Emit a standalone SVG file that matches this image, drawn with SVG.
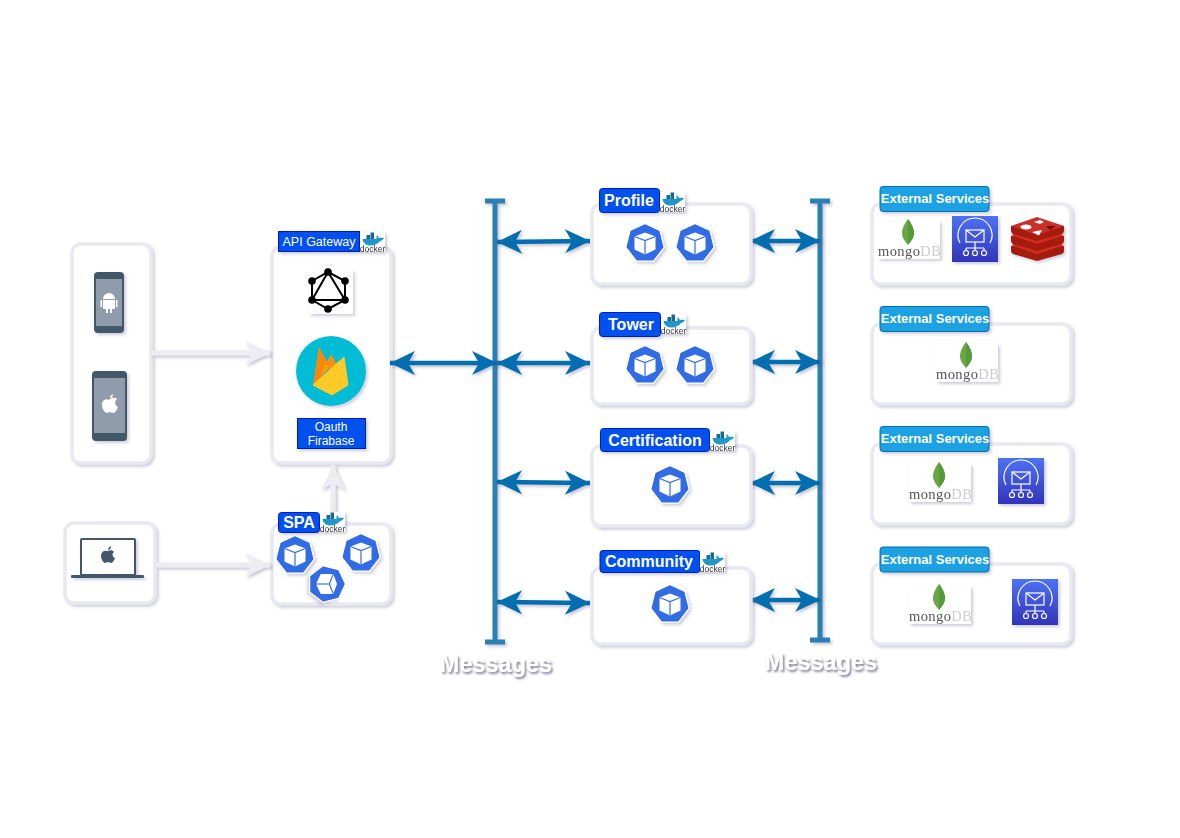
<svg xmlns="http://www.w3.org/2000/svg" xmlns:xlink="http://www.w3.org/1999/xlink" width="1180" height="838" viewBox="0 0 1180 838">
<style>
text{font-family:"Liberation Sans",Arial,sans-serif}
.box{fill:#fff;stroke:#e8e8f0;stroke-width:3.500;filter:url(#sh)}
.blue{fill:#0050ef;stroke:#001dbc;stroke-width:1;filter:url(#sh)}
.ext{fill:#1ba1e2;stroke:#006eaf;stroke-width:1;filter:url(#sh)}
.t{fill:#fff;font-weight:700;text-anchor:middle}
.bus{stroke:#2a7fb4;stroke-width:5;fill:none;filter:url(#csh)}
.link{stroke:#006eaf;stroke-width:4.500;fill:none;marker-start:url(#ms);marker-end:url(#me);filter:url(#csh)}
.grey{stroke:#ececf2;stroke-width:5;fill:none;marker-end:url(#ge);filter:url(#csh)}
.msg{fill:#fff;font-weight:700;font-size:23.500px;text-anchor:middle;filter:url(#sh2)}
.icon{filter:url(#sh)}
</style>
<defs>
<filter id="sh" x="-20%" y="-20%" width="150%" height="150%"><feDropShadow dx="2" dy="2" stdDeviation="1.800" flood-color="#5a5a80" flood-opacity=".3"/></filter>
<filter id="csh" filterUnits="userSpaceOnUse" x="0" y="0" width="1180" height="838"><feDropShadow dx="2" dy="2" stdDeviation="1.800" flood-color="#5a5a80" flood-opacity=".35"/></filter>
<filter id="sh2" x="-20%" y="-30%" width="140%" height="170%"><feDropShadow dx="1.500" dy="2" stdDeviation="1.200" flood-color="#55556a" flood-opacity=".75"/></filter>
<marker id="me" markerUnits="userSpaceOnUse" markerWidth="28" markerHeight="26" refX="25" refY="12" orient="auto"><path d="M0 0L25 12L0 24L7 12Z" fill="#006eaf"/></marker>
<marker id="ms" markerUnits="userSpaceOnUse" markerWidth="28" markerHeight="26" refX="1" refY="12" orient="auto"><path d="M26 0L1 12L26 24L19 12Z" fill="#006eaf"/></marker>
<marker id="ge" markerUnits="userSpaceOnUse" markerWidth="28" markerHeight="26" refX="25" refY="12" orient="auto"><path d="M0 0L25 12L0 24L7 12Z" fill="#ececf2"/></marker>
<g id="kube">
<path d="M0-18L14-11.500L18 4L8 17L-8 17L-18 4L-14-11.500Z" fill="#326ce5" stroke="#326ce5" stroke-width="2" stroke-linejoin="round"/>
<path d="M0-19.500L15-12.500L19.200 4.300L8.500 18.200L-8.500 18.200L-19.200 4.300L-15-12.500Z" fill="none" stroke="#fff" stroke-width="1.200" stroke-linejoin="round"/>
<path d="M0-10.500L10.500-6.500V6.500L0 11.500L-10.500 6.500V-6.500Z" fill="#fff"/>
<path d="M-10.500-6.500L0-2.500L10.500-6.500M0-2.500V11.500" stroke="#326ce5" stroke-width="1.200" fill="none"/>
</g>
<g id="docker">
<rect x="0" y="0" width="25" height="20" fill="#fff"/>
<path d="M2.500 7H16.500V3.500H17.500C18 4.500 18.500 5.500 19 6C20.500 5.500 22.500 5.500 24 6C23 8 21.500 9 20 9C18.500 11.500 14.500 13.500 10 13.500C6 13.500 3 11 2.500 7Z" fill="#2496c9"/>
<path d="M6.500 3H10V7H6.500ZM10.500 0.500H14V7H10.500Z" fill="#176a8e"/>
<text x="12.500" y="19.500" font-size="8.500" text-anchor="middle" fill="#333">docker</text>
</g>
<g id="mongo">
<rect x="0" y="0" width="62" height="38" fill="#fff"/>
<path d="M30-2C26 3 24 8 24 12C24 17 27 20 30 24C33 20 36 17 36 12C36 8 34 3 30-2Z" fill="#6ba644"/>
<path d="M30-2C34 3 36 8 36 12C36 17 33 20 30 24Z" fill="#559a3a"/>
<text x="0" y="35" font-size="14.500" style="font-family:'Liberation Serif',serif" letter-spacing=".4" fill="#555">mongo<tspan fill="#ccc">DB</tspan></text>
</g>
<linearGradient id="sns" x1="0" y1="0" x2="0" y2="1"><stop offset="0" stop-color="#4d72f3"/><stop offset="1" stop-color="#3334b9"/></linearGradient>
<g id="sns-i">
<rect x="0" y="0" width="46" height="46" fill="url(#sns)"/>
<path d="M8 27A17 17 0 1 1 38 27" fill="none" stroke="#fff" stroke-width="1.200"/>
<rect x="14" y="14" width="18" height="12" fill="none" stroke="#fff" stroke-width="1.200"/>
<path d="M14 14L23 21L32 14M23 26V32M14 32H32M14 32V34M23 32V34M32 32V34" fill="none" stroke="#fff" stroke-width="1.200"/>
<circle cx="14" cy="37" r="2.500" fill="none" stroke="#fff" stroke-width="1.200"/><circle cx="23" cy="37" r="2.500" fill="none" stroke="#fff" stroke-width="1.200"/><circle cx="32" cy="37" r="2.500" fill="none" stroke="#fff" stroke-width="1.200"/>
</g>
</defs>
<rect width="1180" height="838" fill="#fff"/>

<g id="clients">
<rect class="box" x="72" y="244" width="79" height="219" rx="9"/>
<rect class="box" x="65" y="523" width="90" height="80" rx="9"/>
</g>
<g id="gateway">
<rect class="box" x="272" y="247" width="119" height="216" rx="9"/>
</g>
<g id="spa">
<rect class="box" x="272" y="524" width="119" height="80" rx="9"/>
</g>

<g id="connectors">
<path class="grey" d="M152 353H270"/>
<path class="grey" d="M157 565H270"/>
<path class="grey" d="M333 514V465"/>
<path class="bus" d="M495 201V642M485 201H505M485 642H505"/>
<path class="bus" d="M820 201V640M810 201H830M810 640H830"/>
<path class="link" d="M390 363H497"/>
<path class="link" d="M497 242L590 241"/>
<path class="link" d="M497 363H590"/>
<path class="link" d="M497 482L590 483"/>
<path class="link" d="M497 602L590 603"/>
<path class="link" d="M750 241H820"/>
<path class="link" d="M750 362H820"/>
<path class="link" d="M750 483H820"/>
<path class="link" d="M750 600H820"/>
</g>

<g id="android-phone" class="icon">
<rect x="94" y="272" width="30" height="61" rx="4" fill="#43596b"/>
<rect x="96" y="279" width="26" height="47" fill="#8f9cab"/>
<path d="M103 299A6 6 0 0 1 115 299ZM103 300H115V309H112V313H110V309H108V313H106V309H103ZM100.500 300H102V307H100.500ZM116 300H117.500V307H116Z" fill="#fff"/>
</g>
<g id="apple-phone" class="icon">
<rect x="92" y="371" width="35" height="70" rx="4" fill="#43596b"/>
<rect x="94" y="378" width="31" height="55" fill="#8f9cab"/>
<path d="M109 400C106 398 102 400 102 405C102 409 105 413 107 413C108 413 109 412 110 412C111 412 112 413 113 413C115 413 117 410 118 407C115 406 114 401 117 399C115 397 112 398 110 399ZM110 398C110 396 111 395 113 394C113 396 112 398 110 398Z" fill="#fff"/>
</g>
<g id="laptop" class="icon">
<rect x="81" y="539" width="54" height="36" rx="1" fill="#fff" stroke="#43596b" stroke-width="2"/>
<rect x="71" y="575" width="73" height="3" rx="1" fill="#43596b"/>
<path d="M107 551C104 550 101 552 101 556C101 560 104 563 105 563C106 563 107 562 108 562C109 562 110 563 111 563C112 563 114 561 115 558C112 557 112 553 114 552C113 550 110 550 108 551ZM108 550C108 548 109 547 111 546C111 548 110 550 108 550Z" fill="#43596b"/>
</g>

<g id="gateway-label">
<rect class="blue" x="278.500" y="231.500" width="81" height="20"/>
<text class="t" x="319" y="246" font-size="12.500" style="font-weight:400">API Gateway</text>
<use xlink:href="#docker" href="#docker" x="360" y="232" class="icon"/>
</g>
<g id="graphql" class="icon">
<rect x="309" y="270" width="44" height="44" fill="#fff"/>
<path d="M328 272L345 281V300L328 309L312 300V281ZM328 272L345 300H312Z" fill="none" stroke="#000" stroke-width="2"/>
<g fill="#000"><circle cx="328" cy="272" r="3.800"/><circle cx="345" cy="281" r="3.800"/><circle cx="345" cy="300" r="3.800"/><circle cx="328" cy="309" r="3.800"/><circle cx="312" cy="300" r="3.800"/><circle cx="312" cy="281" r="3.800"/></g>
</g>
<g id="firebase" class="icon">
<circle cx="331" cy="371" r="35" fill="#00bcd4"/>
<path d="M313 386L319 347L330 367Z" fill="#ffa000"/>
<path d="M326 364L331 354L339 369L331 374Z" fill="#f79009"/>
<path d="M313 386L319 347L326 361L320 380Z" fill="#f57f17" opacity=".75"/>
<path d="M313 385L344 357L348 385L332 395Z" fill="#ffca28" stroke="#ffca28" stroke-width="1" stroke-linejoin="round"/>
</g>
<g id="oauth">
<rect class="blue" x="297.500" y="418.500" width="68" height="30"/>
<text class="t" x="331" y="431" font-size="12" style="font-weight:400">Oauth</text>
<text class="t" x="331" y="445" font-size="12" style="font-weight:400">Firabase</text>
</g>

<g id="spa-label">
<rect class="blue" x="278.500" y="512.500" width="41" height="20" rx="3"/>
<text class="t" x="299" y="528" font-size="16">SPA</text>
<use xlink:href="#docker" href="#docker" x="320" y="512" class="icon"/>
<use xlink:href="#kube" href="#kube" x="295" y="555" class="icon"/>
<use xlink:href="#kube" href="#kube" x="361" y="553" class="icon"/>
<use xlink:href="#kube" href="#kube" transform="translate(327 584) rotate(90) scale(.95)" class="icon"/>
</g>

<g id="profile">
<rect class="box" x="592" y="204" width="159" height="80" rx="9"/>
<rect class="blue" x="599.500" y="188.500" width="60" height="24" rx="3"/>
<text class="t" x="629" y="206" font-size="16">Profile</text>
<use xlink:href="#docker" href="#docker" x="660" y="192" class="icon"/>
<use xlink:href="#kube" href="#kube" x="645" y="243" class="icon"/>
<use xlink:href="#kube" href="#kube" x="695" y="243" class="icon"/>
</g>
<g id="tower">
<rect class="box" x="592" y="328" width="159" height="76" rx="9"/>
<rect class="blue" x="599.500" y="312.500" width="61" height="24" rx="3"/>
<text class="t" x="631" y="330" font-size="16">Tower</text>
<use xlink:href="#docker" href="#docker" x="661" y="314" class="icon"/>
<use xlink:href="#kube" href="#kube" x="645" y="365" class="icon"/>
<use xlink:href="#kube" href="#kube" x="695" y="365" class="icon"/>
</g>
<g id="certification">
<rect class="box" x="592" y="446" width="159" height="80" rx="9"/>
<rect class="blue" x="600.500" y="428.500" width="109" height="23" rx="3"/>
<text class="t" x="655" y="446" font-size="16">Certification</text>
<use xlink:href="#docker" href="#docker" x="710" y="431" class="icon"/>
<use xlink:href="#kube" href="#kube" x="670" y="485" class="icon"/>
</g>
<g id="community">
<rect class="box" x="592" y="568" width="159" height="76" rx="9"/>
<rect class="blue" x="600" y="550.500" width="100" height="22" rx="3"/>
<text class="t" x="649" y="567" font-size="16">Community</text>
<use xlink:href="#docker" href="#docker" x="700" y="552" class="icon"/>
<use xlink:href="#kube" href="#kube" x="670" y="604" class="icon"/>
</g>

<g id="external-1">
<rect class="box" x="872" y="204" width="199" height="80" rx="9"/>
<rect class="ext" x="880" y="186.500" width="109" height="25" rx="3"/>
<text class="t" x="935" y="203" font-size="13">External Services</text>
<use xlink:href="#mongo" href="#mongo" x="878" y="221" class="icon"/>
<use xlink:href="#sns-i" href="#sns-i" x="952" y="216" class="icon"/>
<g id="redis" class="icon">
<path d="M1011 246V251Q1011 253 1013 254L1037 261L1062 254Q1064 253 1064 251V246Z" fill="#a41e11"/>
<path d="M1011 245L1037 254L1064 245L1037 236Z" fill="#d82c20"/>
<path d="M1011 236V241Q1011 243 1013 244L1037 251L1062 244Q1064 243 1064 241V236Z" fill="#a41e11"/>
<path d="M1011 235L1037 244L1064 235L1037 226Z" fill="#d82c20"/>
<path d="M1011 226V231Q1011 233 1013 234L1037 241L1062 234Q1064 233 1064 231V226Z" fill="#a41e11"/>
<path d="M1011 226L1037 217L1064 226L1037 235Z" fill="#c6302b"/>
<ellipse cx="1026" cy="227" rx="5.500" ry="2.500" fill="#fff"/>
<path d="M1032 232L1042 230L1039 235.500Z M1034 222L1040 220L1044 222L1040 224Z" fill="#fff"/>
<path d="M1046 226L1056 226L1050 230Z" fill="#7a0c00"/>
</g>
</g>
<g id="external-2">
<rect class="box" x="872" y="324" width="199" height="80" rx="9"/>
<rect class="ext" x="880" y="306.500" width="109" height="25" rx="3"/>
<text class="t" x="935" y="323" font-size="13">External Services</text>
<use xlink:href="#mongo" href="#mongo" x="936" y="344" class="icon"/>
</g>
<g id="external-3">
<rect class="box" x="872" y="444" width="199" height="80" rx="9"/>
<rect class="ext" x="880" y="426.500" width="109" height="25" rx="3"/>
<text class="t" x="935" y="443" font-size="13">External Services</text>
<use xlink:href="#mongo" href="#mongo" x="909" y="464" class="icon"/>
<use xlink:href="#sns-i" href="#sns-i" x="998" y="458" class="icon"/>
</g>
<g id="external-4">
<rect class="box" x="872" y="564" width="199" height="80" rx="9"/>
<rect class="ext" x="880" y="547" width="109" height="25" rx="3"/>
<text class="t" x="935" y="564" font-size="13">External Services</text>
<use xlink:href="#mongo" href="#mongo" x="909" y="586" class="icon"/>
<use xlink:href="#sns-i" href="#sns-i" x="1012" y="579" class="icon"/>
</g>

<text class="msg" x="496" y="672">Messages</text>
<text class="msg" x="821" y="670">Messages</text>
</svg>
